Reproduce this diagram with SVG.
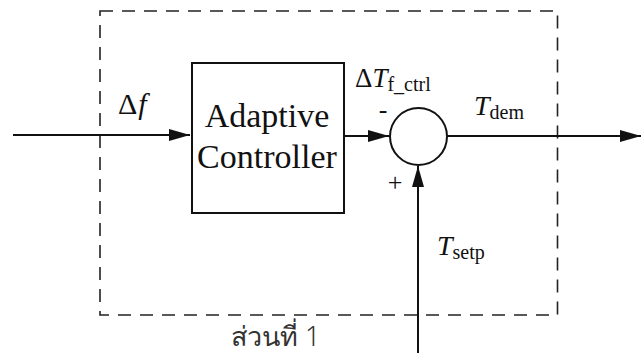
<svg xmlns="http://www.w3.org/2000/svg" width="642" height="364" viewBox="0 0 642 364">
<defs>
<marker id="ah" markerUnits="userSpaceOnUse" markerWidth="22" markerHeight="14" refX="21" refY="7" orient="auto">
<path d="M0,1 L21,7 L0,13 Z" fill="#111"/>
</marker>
<style>
.ln{stroke:#111;stroke-width:2;fill:none}
.dash{stroke:#222;stroke-width:1.6;fill:none;stroke-dasharray:13 9}
.it{font-style:italic}
.tm{font-family:'Liberation Serif',serif;fill:#111}
</style>
</defs>
<rect width="642" height="364" fill="#fff"/>
<g id="boundary">
<rect class="dash" x="100" y="11" width="457.5" height="304"/>
<text font-family="'Noto Sans', 'DejaVu Sans', sans-serif" font-weight="300" fill="#333" x="231" y="346" font-size="27">ส่วนที่ 1</text>
</g>
<g id="controller">
<rect class="ln" x="192" y="63" width="152" height="150"/>
<text class="tm" font-family="'Liberation Serif', serif" x="267" y="127" font-size="34" text-anchor="middle">Adaptive</text>
<text class="tm" font-family="'Liberation Serif', serif" x="267" y="168" font-size="34" text-anchor="middle">Controller</text>
</g>
<g id="sum">
<circle class="ln" cx="418.5" cy="136.5" r="28.5"/>
<text class="tm" x="383" y="118" font-size="26" text-anchor="middle">-</text>
<text class="tm" x="395" y="191" font-size="26" text-anchor="middle">+</text>
</g>
<g id="connectors">
<line class="ln" x1="13" y1="135" x2="190" y2="135" marker-end="url(#ah)"/>
<line class="ln" x1="344" y1="136" x2="389" y2="136" marker-end="url(#ah)"/>
<line class="ln" x1="447" y1="136" x2="641" y2="136" marker-end="url(#ah)"/>
<line class="ln" x1="418" y1="353" x2="418" y2="166" marker-end="url(#ah)"/>
</g>
<g id="labels">
<text class="tm" x="118" y="114" font-size="30">Δ<tspan class="it" dx="1">f</tspan></text>
<text class="tm" x="355" y="87" font-size="27">Δ<tspan class="it">T</tspan><tspan font-size="20" dy="4">f_ctrl</tspan></text>
<text class="tm" x="474" y="115" font-size="28"><tspan class="it">T</tspan><tspan font-size="20" dy="4">dem</tspan></text>
<text class="tm" x="437" y="255" font-size="28"><tspan class="it">T</tspan><tspan font-size="20" dy="4">setp</tspan></text>
</g>
</svg>
